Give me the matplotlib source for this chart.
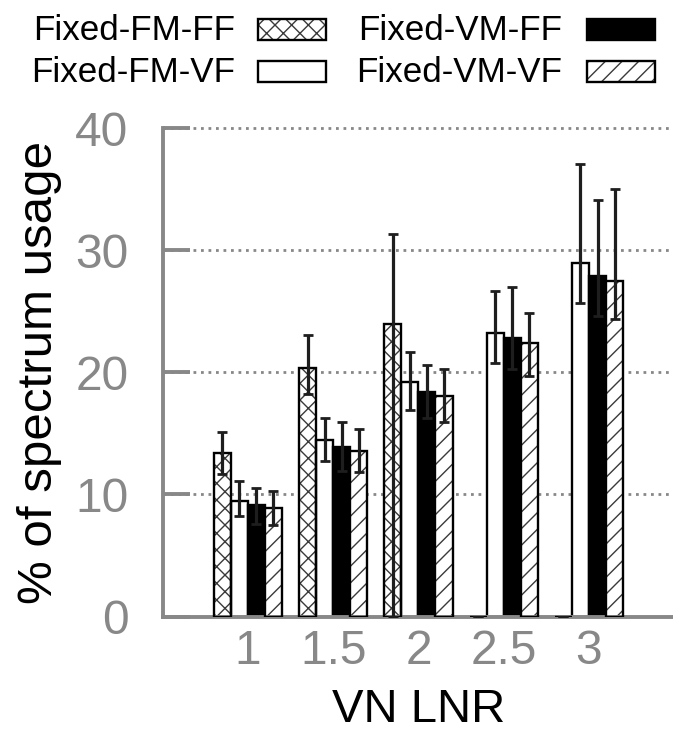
import matplotlib
matplotlib.use("Agg")
import matplotlib.pyplot as plt
from matplotlib.patches import Rectangle
import numpy as np

plt.rcParams['font.family'] = ['Liberation Sans', 'DejaVu Sans']
plt.rcParams['hatch.linewidth'] = 1.0

# data
lnr = ['1', '1.5', '2', '2.5', '3']
series = ['Fixed-FM-FF', 'Fixed-FM-VF', 'Fixed-VM-FF', 'Fixed-VM-VF']

fm_ff = [13.4, 20.4, 24.0, 0.0, 0.0]
fm_ff_lo = [11.7, 18.2, 0.0, 0.0, 0.0]
fm_ff_hi = [15.15, 23.1, 31.3, 0.0, 0.0]

fm_vf = [9.5, 14.5, 19.2, 23.2, 29.0]
fm_vf_lo = [8.2, 12.7, 16.9, 20.8, 25.7]
fm_vf_hi = [11.1, 16.3, 21.7, 26.7, 37.1]

vm_ff = [9.1, 13.9, 18.4, 22.8, 27.9]
vm_ff_lo = [7.6, 11.9, 16.3, 20.3, 24.6]
vm_ff_hi = [10.5, 15.9, 20.6, 27.0, 34.1]

vm_vf = [8.9, 13.6, 18.1, 22.4, 27.5]
vm_vf_lo = [7.5, 11.8, 15.9, 19.7, 24.4]
vm_vf_hi = [10.3, 15.4, 20.3, 24.9, 35.0]

means = [fm_ff, fm_vf, vm_ff, vm_vf]
lows = [fm_ff_lo, fm_vf_lo, vm_ff_lo, vm_vf_lo]
highs = [fm_ff_hi, fm_vf_hi, vm_ff_hi, vm_vf_hi]

# fill, hatch for each series
styles = [('white', 'xx'), ('white', None), ('black', None), ('white', '//')]

GRAY = '#888888'
HATCH = '#3a3a3a'
W, H = 673, 734

fig = plt.figure(figsize=(W / 100, H / 100), dpi=100)
ax = fig.add_axes([163 / W, 117.5 / H, 510 / W, 488.2 / H])

x = np.arange(len(lnr))
width = 0.2
offsets = [-1.5, -0.5, 0.5, 1.5]

for i in range(4):
    pos = x + offsets[i] * width
    fc, hatch = styles[i]
    m = np.array(means[i])
    if hatch:
        ax.bar(pos, m, width, color='white', edgecolor=HATCH, linewidth=0,
               hatch=hatch, zorder=2)
        ax.bar(pos, m, width, fill=False, edgecolor='black', linewidth=1.7, zorder=3)
    else:
        ax.bar(pos, m, width, color=fc, edgecolor='black', linewidth=1.7, zorder=2)
    err = [m - np.array(lows[i]), np.array(highs[i]) - m]
    ax.errorbar(pos, m, yerr=err, fmt='none', ecolor='#1e1e1e', elinewidth=2.3,
                capsize=3.4, capthick=2.0, zorder=4)

ax.set_xlim(-0.995, 4.985)
ax.set_ylim(0, 40)
ax.set_xticks(x)
ax.set_xticklabels(lnr)
ax.set_yticks([0, 10, 20, 30, 40])

for s in ['top', 'right']:
    ax.spines[s].set_visible(False)
for s in ['left', 'bottom']:
    ax.spines[s].set_color(GRAY)
    ax.spines[s].set_linewidth(2.8)

ax.tick_params(axis='y', direction='in', length=19.5, width=2.8, color=GRAY,
               labelcolor=GRAY, labelsize=34.5, pad=25)
ax.tick_params(axis='x', length=0, labelcolor=GRAY, labelsize=34.5, pad=9)

ax.set_axisbelow(True)
ax.yaxis.grid(True, color=GRAY, linestyle=(0, (1, 1.7)), linewidth=2.0)
for gl in ax.get_ygridlines():
    gl.set_clip_on(False)
ax.get_ygridlines()[0].set_visible(False)

fig.text(40 / W, 1 - 372 / H, '% of spectrum usage', rotation=90,
         ha='center', va='center', fontsize=35.5, color='black')
fig.text(419 / W, 1.5 / H, 'VN LNR', ha='center', va='bottom',
         fontsize=34, color='black')

# gnuplot style key: text right-aligned, sample box to its right
key_text_x = [235, 562]
key_box_x = [258, 587]
key_baseline = [40, 82]
box_w, box_h = 68, 21
for i, name in enumerate(series):
    col, row = divmod(i, 2)
    fig.text(key_text_x[col] / W, 1 - key_baseline[row] / H, name,
             ha='right', va='baseline', fontsize=25.2, color='black')
    fc, hatch = styles[i]
    bx = key_box_x[col] / W
    by = 1 - key_baseline[row] / H
    if hatch:
        fig.patches.append(Rectangle((bx, by), box_w / W, box_h / H, transform=fig.transFigure,
                                     facecolor='white', edgecolor=HATCH, linewidth=0,
                                     hatch=hatch))
        fig.patches.append(Rectangle((bx, by), box_w / W, box_h / H, transform=fig.transFigure,
                                     fill=False, edgecolor='black', linewidth=1.7))
    else:
        fig.patches.append(Rectangle((bx, by), box_w / W, box_h / H, transform=fig.transFigure,
                                     facecolor=fc, edgecolor='black', linewidth=1.7))

fig.savefig('out.png', dpi=100)
